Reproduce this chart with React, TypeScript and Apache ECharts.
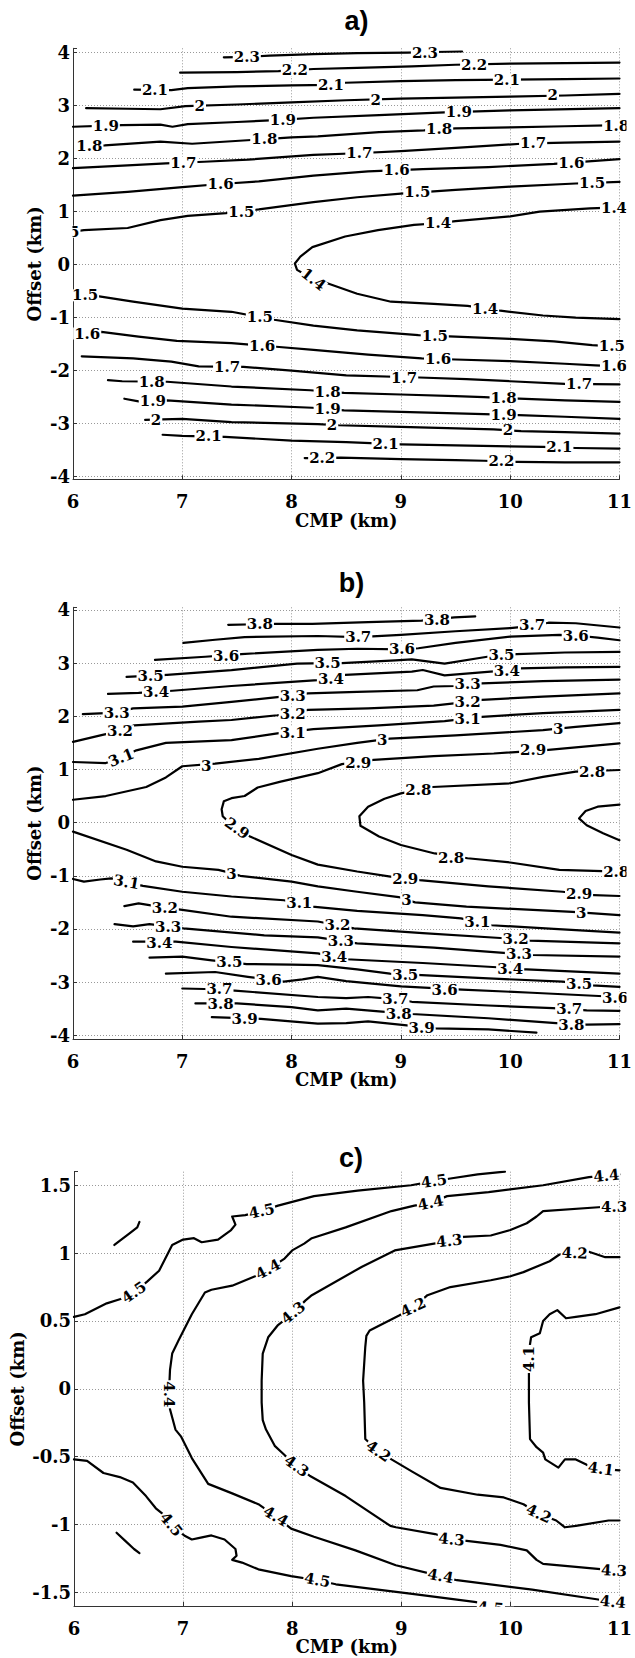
import React, { useEffect, useRef } from "react";
import * as echarts from "echarts";

type Pt = [number, number];
type Lab = [number, number, string, number];

// ---------------- panel a) ----------------
const A_LINES: Pt[][] = [
  [[7.38,3.91],[7.6,3.92],[7.8,3.94],[8.2,3.97],[8.6,3.99],[9.06,4.0],[9.3,4.01],[9.56,4.02]],
  [[6.98,3.62],[7.5,3.63],[7.88,3.65],[8.2,3.69],[8.6,3.71],[9.1,3.74],[9.5,3.77],[10,3.79],[10.5,3.8],[11,3.81]],
  [[6.56,3.3],[6.9,3.29],[7.05,3.33],[7.5,3.36],[8.0,3.38],[8.36,3.39],[8.49,3.43],[9.0,3.46],[9.5,3.48],[10,3.49],[10.5,3.5],[11,3.51]],
  [[6.12,2.95],[6.5,2.94],[6.8,2.93],[7.03,2.99],[7.5,3.02],[8.0,3.06],[8.5,3.1],[9.0,3.13],[9.5,3.15],[10,3.17],[10.5,3.19],[11,3.22]],
  [[6,2.6],[6.45,2.63],[6.8,2.64],[6.91,2.6],[7.05,2.65],[7.5,2.69],[7.9,2.73],[8.2,2.77],[8.8,2.82],[9.4,2.87],[10,2.91],[11,2.95]],
  [[6.05,2.23],[6.29,2.25],[6.8,2.32],[7.09,2.28],[7.63,2.35],[8.0,2.4],[8.24,2.42],[8.8,2.5],[9.21,2.53],[9.5,2.57],[10.0,2.59],[10.5,2.61],[11,2.63]],
  [[6,1.82],[6.5,1.87],[6.85,1.91],[7.2,1.94],[7.6,1.98],[8.2,2.07],[8.6,2.1],[9.0,2.14],[9.5,2.2],[10.1,2.28],[10.5,2.3],[11,2.32]],
  [[6,1.3],[6.5,1.37],[7.0,1.46],[7.35,1.52],[7.7,1.57],[8.2,1.68],[8.7,1.76],[9.2,1.8],[9.8,1.84],[10.4,1.9],[11,1.99]],
  [[6,0.62],[6.1,0.65],[6.5,0.69],[6.8,0.84],[7.05,0.92],[7.4,0.97],[7.7,1.04],[8.2,1.18],[8.6,1.27],[9.0,1.34],[9.5,1.41],[10.0,1.47],[10.6,1.53],[11,1.56]],
  [[11,1.08],[10.73,1.06],[10.27,1.0],[10.0,0.91],[9.5,0.82],[9.34,0.78],[9.12,0.75],[8.79,0.65],[8.49,0.53],[8.19,0.33],[8.08,0.15],[8.03,0.02],[8.05,-0.1],[8.15,-0.22],[8.34,-0.36],[8.6,-0.55],[8.91,-0.7],[9.3,-0.74],[9.61,-0.78],[9.91,-0.87],[10.3,-0.96],[10.6,-1.0],[11,-1.03]],
  [[6.05,-0.57],[6.24,-0.6],[6.55,-0.7],[7.0,-0.83],[7.45,-0.89],[7.84,-1.04],[8.2,-1.15],[8.6,-1.24],[9.16,-1.33],[9.5,-1.36],[10,-1.4],[10.4,-1.45],[10.75,-1.52],[11,-1.55]],
  [[6.05,-1.31],[6.26,-1.27],[6.6,-1.36],[6.95,-1.44],[7.45,-1.48],[7.86,-1.55],[8.2,-1.61],[8.7,-1.7],[9.19,-1.77],[9.5,-1.79],[10,-1.82],[10.5,-1.87],[10.78,-1.9],[11,-1.92]],
  [[6.08,-1.73],[6.55,-1.77],[6.9,-1.83],[7.15,-1.92],[7.56,-1.93],[8.0,-2.0],[8.5,-2.09],[9.17,-2.13],[9.6,-2.16],[10.0,-2.2],[10.5,-2.25],[11,-2.26]],
  [[6.32,-2.18],[6.45,-2.2],[6.86,-2.21],[7.45,-2.3],[8.17,-2.37],[8.48,-2.42],[9.0,-2.45],[9.5,-2.48],[9.76,-2.5],[10.08,-2.53],[10.5,-2.56],[11,-2.59]],
  [[6.47,-2.53],[6.6,-2.58],[6.86,-2.56],[7.45,-2.64],[8.19,-2.7],[8.48,-2.75],[9.0,-2.78],[9.76,-2.82],[10.08,-2.84],[10.5,-2.87],[11,-2.91]],
  [[6.66,-2.93],[6.82,-2.92],[7.0,-2.91],[7.45,-2.97],[8.24,-3.01],[8.43,-3.03],[9.0,-3.06],[9.85,-3.11],[10.1,-3.14],[10.5,-3.16],[11,-3.19]],
  [[6.82,-3.21],[7.0,-3.23],[7.39,-3.25],[8.0,-3.32],[8.5,-3.35],[9.0,-3.39],[9.5,-3.41],[10.3,-3.44],[10.6,-3.46],[11,-3.47]],
  [[8.12,-3.65],[8.27,-3.65],[8.45,-3.64],[9.0,-3.67],[9.5,-3.69],[9.76,-3.7],[10.06,-3.72],[10.5,-3.73],[11,-3.73]],
];
const A_LABELS: Lab[] = [
  [7.59,3.92,"2.3",0],[9.22,4.0,"2.3",0],
  [8.03,3.67,"2.2",0],[9.67,3.77,"2.2",0],
  [6.75,3.29,"2.1",0],[8.36,3.39,"2.1",0],[9.97,3.48,"2.1",0],
  [7.16,3.0,"2",0],[8.77,3.11,"2",0],[10.39,3.19,"2",0],
  [6.3,2.62,"1.9",0],[7.92,2.73,"1.9",0],[9.53,2.88,"1.9",0],
  [6.15,2.23,"1.8",0],[7.75,2.37,"1.8",0],[9.35,2.55,"1.8",0],[10.97,2.62,"1.8",0],
  [7.01,1.92,"1.7",0],[8.62,2.1,"1.7",0],[10.21,2.29,"1.7",0],
  [7.35,1.52,"1.6",0],[8.96,1.78,"1.6",0],[10.56,1.92,"1.6",0],
  [5.94,0.62,"1.5",0],[7.54,0.99,"1.5",0],[9.15,1.36,"1.5",0],[10.75,1.54,"1.5",0],
  [9.34,0.78,"1.4",0],[10.95,1.07,"1.4",0],[8.2,-0.28,"1.4",-38],[9.77,-0.83,"1.4",0],
  [6.11,-0.58,"1.5",0],[7.71,-0.98,"1.5",0],[9.31,-1.35,"1.5",0],[10.93,-1.54,"1.5",0],
  [6.13,-1.3,"1.6",0],[7.73,-1.53,"1.6",0],[9.34,-1.78,"1.6",0],[10.95,-1.92,"1.6",0],
  [7.41,-1.93,"1.7",0],[9.03,-2.13,"1.7",0],[10.63,-2.26,"1.7",0],
  [6.72,-2.21,"1.8",0],[8.33,-2.4,"1.8",0],[9.94,-2.51,"1.8",0],
  [6.73,-2.57,"1.9",0],[8.33,-2.73,"1.9",0],[9.94,-2.83,"1.9",0],
  [6.76,-2.93,"2",0],[8.37,-3.02,"2",0],[9.98,-3.12,"2",0],
  [7.24,-3.24,"2.1",0],[8.86,-3.38,"2.1",0],[10.45,-3.45,"2.1",0],
  [8.28,-3.65,"2.2",0],[9.92,-3.71,"2.2",0],
];

// ---------------- panel b) ----------------
const B_LINES: Pt[][] = [
  [[7.42,3.72],[7.86,3.74],[8.19,3.74],[8.7,3.77],[9.19,3.8],[9.49,3.86],[9.68,3.88]],
  [[7.01,3.38],[7.3,3.44],[7.57,3.49],[8.24,3.51],[8.61,3.49],[9.0,3.53],[9.5,3.6],[10.0,3.66],[10.2,3.7],[10.35,3.76],[10.6,3.75],[11,3.67]],
  [[6.75,3.06],[7.21,3.12],[7.54,3.17],[8.24,3.25],[8.6,3.27],[9.01,3.26],[9.16,3.28],[9.5,3.38],[10.0,3.5],[10.45,3.53],[10.6,3.52],[10.8,3.48],[11,3.43]],
  [[6.49,2.74],[6.86,2.78],[7.45,2.87],[8.05,2.99],[8.33,3.0],[8.46,3.0],[8.95,3.05],[9.1,3.07],[9.4,2.99],[9.79,3.12],[9.92,3.15],[10.06,3.17],[10.5,3.2],[11,3.21]],
  [[6.32,2.42],[6.6,2.44],[6.91,2.48],[7.45,2.57],[8.24,2.68],[8.36,2.72],[8.49,2.78],[9.1,2.84],[9.2,2.87],[9.4,2.77],[9.82,2.84],[9.97,2.86],[10.09,2.9],[10.5,2.92],[11,2.93]],
  [[6.09,2.04],[6.4,2.07],[6.55,2.15],[7.0,2.18],[7.45,2.27],[7.87,2.36],[8.15,2.43],[8.6,2.46],[9.15,2.49],[9.3,2.56],[9.5,2.57],[9.74,2.62],[10.3,2.66],[11,2.69]],
  [[6,1.52],[6.27,1.65],[6.43,1.72],[6.56,1.83],[7.15,1.9],[7.45,1.93],[7.87,2.02],[8.15,2.12],[8.7,2.15],[9.3,2.2],[9.61,2.27],[9.74,2.31],[10.3,2.37],[11,2.43]],
  [[6,1.14],[6.3,1.12],[6.44,1.22],[6.58,1.36],[6.85,1.5],[7.45,1.55],[7.87,1.68],[8.2,1.76],[8.8,1.83],[9.4,1.91],[9.74,1.99],[10.3,2.06],[11,2.12]],
  [[6,0.43],[6.3,0.5],[6.67,0.67],[6.85,0.85],[7.0,1.06],[7.3,1.11],[7.7,1.2],[8.24,1.39],[8.6,1.5],[8.9,1.58],[9.5,1.64],[10.3,1.74],[10.6,1.8],[11,1.87]],
  [[11,1.49],[10.35,1.37],[9.85,1.3],[9.3,1.25],[8.75,1.18],[8.46,1.1],[8.24,0.93],[7.9,0.77],[7.69,0.66],[7.57,0.5],[7.45,0.46],[7.38,0.4],[7.36,0.25],[7.37,0.12],[7.42,0.02],[7.5,-0.11],[7.62,-0.26],[8.0,-0.61],[8.24,-0.79],[8.6,-0.92],[8.92,-1.02],[9.17,-1.08],[9.8,-1.2],[10.48,-1.3],[10.7,-1.36],[11,-1.38]],
  [[11,0.99],[10.6,0.96],[10.3,0.86],[10,0.74],[9.29,0.67],[9.0,0.55],[8.85,0.45],[8.7,0.3],[8.62,0.12],[8.63,-0.06],[8.8,-0.26],[9.0,-0.42],[9.31,-0.58],[9.61,-0.67],[10.0,-0.75],[10.45,-0.89],[11,-0.92]],
  [[11,0.34],[10.8,0.3],[10.69,0.22],[10.63,0.08],[10.7,-0.05],[10.85,-0.2],[11,-0.33]],
  [[6,-0.17],[6.49,-0.51],[6.76,-0.73],[7.0,-0.83],[7.33,-0.89],[7.45,-0.95],[7.53,-1.0],[8.0,-1.11],[8.24,-1.2],[8.6,-1.3],[8.98,-1.4],[9.05,-1.45],[9.13,-1.5],[9.6,-1.58],[10.57,-1.68],[11,-1.74]],
  [[6,-1.06],[6.1,-1.11],[6.25,-1.07],[6.35,-1.05],[6.49,-1.12],[6.64,-1.19],[7.0,-1.3],[7.45,-1.39],[7.93,-1.46],[8.19,-1.58],[8.6,-1.66],[9.2,-1.74],[9.55,-1.8],[9.83,-1.93],[10.4,-2.0],[11,-2.07]],
  [[6.47,-1.57],[6.6,-1.52],[6.84,-1.6],[7.0,-1.64],[7.45,-1.77],[8.24,-1.86],[8.42,-1.93],[8.57,-1.99],[9.2,-2.08],[9.91,-2.17],[10.05,-2.19],[10.18,-2.22],[11,-2.27]],
  [[6.38,-1.91],[6.55,-1.95],[6.7,-1.91],[7.01,-1.99],[7.75,-2.12],[8.24,-2.16],[8.6,-2.27],[9.3,-2.35],[9.94,-2.45],[10.08,-2.47],[10.2,-2.49],[11,-2.52]],
  [[6.55,-2.24],[6.94,-2.24],[7.45,-2.34],[8.24,-2.46],[8.5,-2.57],[9.2,-2.64],[9.88,-2.72],[10.0,-2.76],[10.15,-2.76],[11,-2.84]],
  [[6.7,-2.54],[7.0,-2.52],[7.27,-2.59],[7.59,-2.66],[8.0,-2.67],[8.24,-2.68],[8.6,-2.76],[8.9,-2.84],[9.19,-2.87],[9.8,-2.93],[10.48,-2.99],[10.75,-3.06],[11,-3.09]],
  [[6.85,-2.84],[7.3,-2.81],[7.6,-2.9],[7.93,-2.99],[8.1,-2.95],[8.24,-2.9],[8.5,-2.98],[9.0,-3.08],[9.56,-3.14],[10.2,-3.2],[11,-3.28]],
  [[7.0,-3.12],[7.2,-3.13],[7.48,-3.16],[8.24,-3.28],[8.5,-3.3],[8.7,-3.28],[8.95,-3.32],[9.1,-3.37],[9.8,-3.44],[10.39,-3.49],[10.7,-3.53],[11,-3.54]],
  [[7.12,-3.4],[7.5,-3.4],[8.0,-3.47],[8.24,-3.53],[8.5,-3.5],[8.8,-3.55],[9.1,-3.6],[9.8,-3.68],[10.42,-3.77],[10.7,-3.8],[11,-3.79]],
  [[7.27,-3.66],[7.72,-3.69],[8.24,-3.78],[8.5,-3.77],[8.7,-3.74],[8.9,-3.78],[9.32,-3.87],[9.8,-3.89],[10.24,-3.95]],
];
const B_LABELS: Lab[] = [
  [7.71,3.73,"3.8",0],[9.33,3.82,"3.8",0],
  [8.61,3.49,"3.7",0],[10.2,3.71,"3.7",0],
  [7.4,3.14,"3.6",0],[9.01,3.26,"3.6",0],[10.6,3.51,"3.6",0],
  [6.71,2.76,"3.5",0],[8.33,3.0,"3.5",0],[9.92,3.15,"3.5",0],
  [6.76,2.46,"3.4",0],[8.36,2.71,"3.4",0],[9.97,2.85,"3.4",0],
  [6.4,2.06,"3.3",0],[8.01,2.39,"3.3",0],[9.61,2.6,"3.3",0],
  [6.43,1.72,"3.2",0],[8.01,2.05,"3.2",0],[9.61,2.27,"3.2",0],
  [6.44,1.22,"3.1",22],[8.01,1.69,"3.1",0],[9.61,1.94,"3.1",0],
  [7.22,1.07,"3",0],[8.83,1.55,"3",0],[10.44,1.76,"3",0],
  [8.61,1.12,"2.9",0],[10.21,1.37,"2.9",0],[7.5,-0.11,"2.9",-35],[9.04,-1.06,"2.9",0],[10.63,-1.35,"2.9",0],
  [9.16,0.62,"2.8",0],[10.75,0.96,"2.8",0],[9.46,-0.67,"2.8",0],[10.97,-0.93,"2.8",0],
  [7.45,-0.97,"3",0],[9.05,-1.46,"3",0],[10.65,-1.7,"3",0],
  [6.49,-1.12,"3.1",-10],[8.07,-1.52,"3.1",0],[9.7,-1.87,"3.1",0],
  [6.84,-1.6,"3.2",0],[8.42,-1.93,"3.2",0],[10.05,-2.19,"3.2",0],
  [6.87,-1.97,"3.3",0],[8.45,-2.23,"3.3",0],[10.08,-2.47,"3.3",0],
  [6.79,-2.26,"3.4",0],[8.39,-2.53,"3.4",0],[10.0,-2.76,"3.4",0],
  [7.43,-2.63,"3.5",0],[9.04,-2.86,"3.5",0],[10.63,-3.03,"3.5",0],
  [7.79,-2.96,"3.6",0],[9.4,-3.14,"3.6",0],[10.96,-3.29,"3.6",0],
  [7.34,-3.13,"3.7",0],[8.95,-3.31,"3.7",0],[10.54,-3.5,"3.7",0],
  [7.35,-3.42,"3.8",0],[8.98,-3.6,"3.8",0],[10.56,-3.8,"3.8",0],
  [7.57,-3.7,"3.9",0],[9.19,-3.87,"3.9",0],
];

// ---------------- panel c) ----------------
const C_LINES: Pt[][] = [
  [[6,0.53],[6.1,0.55],[6.3,0.63],[6.42,0.66],[6.55,0.71],[6.67,0.79],[6.78,0.87],[6.9,1.06],[7.0,1.1],[7.1,1.11],[7.17,1.08],[7.32,1.1],[7.44,1.17],[7.48,1.21],[7.45,1.27],[7.57,1.28],[7.72,1.31],[7.87,1.35],[8.2,1.42],[8.6,1.46],[9.09,1.5],[9.3,1.53],[9.45,1.55],[9.7,1.58],[9.95,1.6]],
  [[6.37,1.06],[6.5,1.14],[6.58,1.19],[6.6,1.23]],
  [[11,1.58],[10.72,1.56],[10.3,1.5],[9.8,1.45],[9.42,1.42],[9.27,1.37],[9.12,1.35],[8.91,1.31],[8.49,1.19],[8.18,1.11],[8.11,1.07],[8.0,1.02],[7.93,0.96],[7.78,0.88],[7.66,0.83],[7.45,0.76],[7.26,0.73],[7.2,0.71],[7.08,0.55],[6.96,0.36],[6.9,0.26],[6.88,0.14],[6.87,-0.04],[6.88,-0.15],[6.93,-0.3],[6.98,-0.35],[7.08,-0.51],[7.23,-0.7],[7.45,-0.77],[7.69,-0.85],[7.85,-0.94],[7.99,-1.03],[8.2,-1.09],[8.58,-1.19],[8.95,-1.3],[9.36,-1.38],[9.51,-1.41],[10.2,-1.48],[10.79,-1.55],[11,-1.58]],
  [[11,1.34],[10.84,1.34],[10.3,1.31],[10.24,1.27],[10.15,1.22],[10.0,1.17],[9.82,1.13],[9.57,1.12],[9.44,1.09],[9.3,1.07],[8.94,1.02],[8.64,0.9],[8.18,0.69],[8.12,0.65],[8.01,0.56],[7.87,0.47],[7.78,0.38],[7.73,0.26],[7.72,0.06],[7.72,-0.1],[7.73,-0.23],[7.76,-0.3],[7.84,-0.42],[7.92,-0.48],[8.04,-0.57],[8.16,-0.64],[8.49,-0.79],[8.9,-1.01],[8.95,-1.02],[9.31,-1.07],[9.46,-1.11],[9.6,-1.12],[9.91,-1.15],[10.15,-1.19],[10.24,-1.26],[10.3,-1.29],[10.85,-1.33],[11,-1.34]],
  [[11,0.97],[10.87,0.97],[10.72,1.01],[10.59,1.0],[10.45,0.99],[10.36,0.94],[10.12,0.86],[10.0,0.83],[9.82,0.8],[9.45,0.75],[9.24,0.69],[9.11,0.6],[8.98,0.54],[8.71,0.43],[8.68,0.39],[8.67,0.31],[8.65,0.06],[8.66,-0.1],[8.67,-0.37],[8.79,-0.46],[8.91,-0.52],[9.1,-0.61],[9.36,-0.73],[9.7,-0.78],[9.94,-0.8],[10.12,-0.85],[10.26,-0.92],[10.42,-0.97],[10.5,-1.02],[10.6,-1.01],[10.9,-0.97],[11,-0.97]],
  [[11,0.6],[10.78,0.55],[10.6,0.53],[10.51,0.52],[10.43,0.58],[10.36,0.55],[10.3,0.5],[10.27,0.41],[10.19,0.38],[10.18,0.33],[10.17,0.2],[10.17,0.11],[10.17,-0.1],[10.18,-0.37],[10.24,-0.43],[10.3,-0.47],[10.32,-0.52],[10.44,-0.58],[10.5,-0.52],[10.6,-0.52],[10.7,-0.56],[10.83,-0.59],[11,-0.6]],
  [[6,-0.52],[6.12,-0.53],[6.27,-0.62],[6.42,-0.65],[6.54,-0.69],[6.66,-0.79],[6.75,-0.88],[6.81,-0.92],[6.89,-1.0],[7.01,-1.08],[7.08,-1.11],[7.14,-1.1],[7.26,-1.08],[7.38,-1.11],[7.48,-1.18],[7.49,-1.23],[7.45,-1.26],[7.54,-1.28],[7.69,-1.33],[7.99,-1.38],[8.23,-1.41],[8.4,-1.44],[9.1,-1.51],[9.67,-1.57],[9.9,-1.6]],
  [[6.39,-1.06],[6.47,-1.12],[6.55,-1.18],[6.6,-1.21]],
];
const C_LABELS: Lab[] = [
  [6.55,0.71,"4.5",35],[7.72,1.31,"4.5",12],[9.3,1.53,"4.5",8],
  [10.88,1.57,"4.4",6],[9.27,1.37,"4.4",12],[7.78,0.88,"4.4",28],[6.87,-0.04,"4.4",-90],[7.85,-0.94,"4.4",-30],[9.36,-1.38,"4.4",-10],[10.94,-1.57,"4.4",-5],
  [10.95,1.34,"4.3",0],[9.44,1.09,"4.3",6],[8.01,0.56,"4.3",40],[8.04,-0.57,"4.3",-35],[9.46,-1.11,"4.3",-5],[10.95,-1.34,"4.3",-3],
  [10.59,1.0,"4.2",-3],[9.11,0.6,"4.2",25],[8.79,-0.46,"4.2",-35],[10.26,-0.92,"4.2",-25],
  [10.17,0.22,"4.1",90],[10.83,-0.59,"4.1",-8],
  [6.89,-1.0,"4.5",-50],[8.23,-1.41,"4.5",-10],[9.82,-1.615,"4.5",-5],
];

const SERIF = "'DejaVu Serif', 'Liberation Serif', serif";
const SANS = "'Liberation Sans', Arial, sans-serif";

const GRIDS = [
  { left: 73, top: 48.3, width: 552.5, height: 431, yMin: -4.05, yMax: 4.08, step: 1, nameX: 34 },
  { left: 73, top: 607.3, width: 552.5, height: 431.7, yMin: -4.07, yMax: 4.05, step: 1, nameX: 34 },
  { left: 74, top: 1171.7, width: 551.7, height: 434.3, yMin: -1.6, yMax: 1.6, step: 0.5, nameX: 17.5 },
];

function buildOption() {
  const panels = [
    { lines: A_LINES, labels: A_LABELS },
    { lines: B_LINES, labels: B_LABELS },
    { lines: C_LINES, labels: C_LABELS },
  ];
  const axisText = { fontFamily: SERIF, fontWeight: "bold" as const, fontSize: 18, color: "#000" };
  const grid = GRIDS.map((g) => ({ left: g.left, top: g.top, width: g.width, height: g.height, containLabel: false }));
  const xAxis = GRIDS.map((g, i) => ({
    type: "value",
    gridIndex: i,
    min: 6,
    max: 11,
    interval: 1,
    name: "CMP (km)",
    nameLocation: "middle",
    nameGap: 31,
    nameTextStyle: axisText,
    axisLine: { show: true, onZero: false, lineStyle: { color: "#333", width: 1 } },
    axisTick: { show: true, inside: true, length: 4, lineStyle: { color: "#333" } },
    axisLabel: { ...axisText, margin: 13 },
    splitLine: { show: true, lineStyle: { type: [1, 2], color: "#999", width: 1 } },
  }));
  const yAxis = GRIDS.map((g, i) => ({
    type: "value",
    gridIndex: i,
    min: g.yMin,
    max: g.yMax,
    splitNumber: Math.round((g.yMax - g.yMin) / g.step),
    minInterval: g.step,
    maxInterval: g.step,
    axisLine: { show: true, onZero: false, lineStyle: { color: "#333", width: 1 } },
    axisTick: { show: true, inside: true, length: 4, lineStyle: { color: "#333" } },
    axisLabel: {
      ...axisText,
      margin: 3,
      formatter: (v: number) => {
        const k = v / g.step;
        return Math.abs(k - Math.round(k)) < 1e-6 ? String(Math.round(k) * g.step) : "";
      },
    },
    splitLine: { show: true, showMinLine: false, showMaxLine: false, lineStyle: { type: [1, 2], color: "#999", width: 1 } },
  }));
  const series: any[] = [];
  panels.forEach((p, i) => {
    p.lines.forEach((pts) => {
      series.push({
        type: "line",
        xAxisIndex: i,
        yAxisIndex: i,
        data: pts,
        symbol: "none",
        silent: true,
        z: 2,
        lineStyle: { color: "#000", width: 2.2, join: "round", cap: "round" },
      });
    });
    series.push({
      type: "scatter",
      xAxisIndex: i,
      yAxisIndex: i,
      clip: false,
      silent: true,
      z: 3,
      symbolSize: 1,
      itemStyle: { color: "rgba(0,0,0,0)" },
      label: {
        show: true,
        position: "inside",
        fontFamily: SERIF,
        fontWeight: "bold",
        fontSize: 15,
        color: "#000",
        opacity: 1,
        textBorderWidth: 0,
        textBorderColor: "transparent",
        textShadowBlur: 0,
        backgroundColor: "#fff",
        padding: [0, 1],
        lineHeight: 12,
      },
      data: p.labels.map(([x, y, t, r]) => ({ value: [x, y], label: { formatter: t, rotate: r } })),
    });
  });
  const titleStyle = (text: string) => ({
    text,
    fontFamily: SANS,
    fontWeight: "bold",
    fontSize: 27,
    fill: "#000",
    align: "center",
    verticalAlign: "middle",
  });
  const mask = (x: number, y: number, w: number, h: number) => ({
    type: "rect",
    z: 100,
    silent: true,
    shape: { x, y, width: w, height: h },
    style: { fill: "#fff" },
  });
  const yNames = GRIDS.map((g) => ({
    type: "text",
    x: g.nameX,
    y: g.top + g.height / 2,
    rotation: Math.PI / 2,
    z: 100,
    silent: true,
    style: {
      text: "Offset (km)",
      fontFamily: SERIF,
      fontWeight: "bold",
      fontSize: 18,
      fill: "#000",
      align: "center",
      verticalAlign: "middle",
    },
  }));
  const graphic = [
    { type: "text", x: 356.5, y: 20.5, z: 100, style: titleStyle("a)") },
    { type: "text", x: 351.5, y: 583, z: 100, style: titleStyle("b)") },
    { type: "text", x: 351, y: 1157.5, z: 100, style: titleStyle("c)") },
    ...yNames,
    mask(626.5, 40, 15, 441),
    mask(626.5, 600, 15, 441),
    mask(626.5, 1165, 15, 442),
    mask(44, 223, 28.5, 18),
    mask(478, 1606.8, 36, 10),
  ];
  return {
    animation: false,
    backgroundColor: "#fff",
    grid,
    xAxis,
    yAxis,
    series,
    graphic,
  };
}

export default function App() {
  const ref = useRef<HTMLDivElement>(null);
  useEffect(() => {
    if (!ref.current) return;
    const chart = echarts.init(ref.current, undefined, { renderer: "svg" });
    chart.setOption(buildOption() as any);
    return () => chart.dispose();
  }, []);
  return (
    <div
      ref={ref}
      style={{ position: "absolute", left: 0, top: 0, width: 635, height: 1658, background: "#fff" }}
    />
  );
}
